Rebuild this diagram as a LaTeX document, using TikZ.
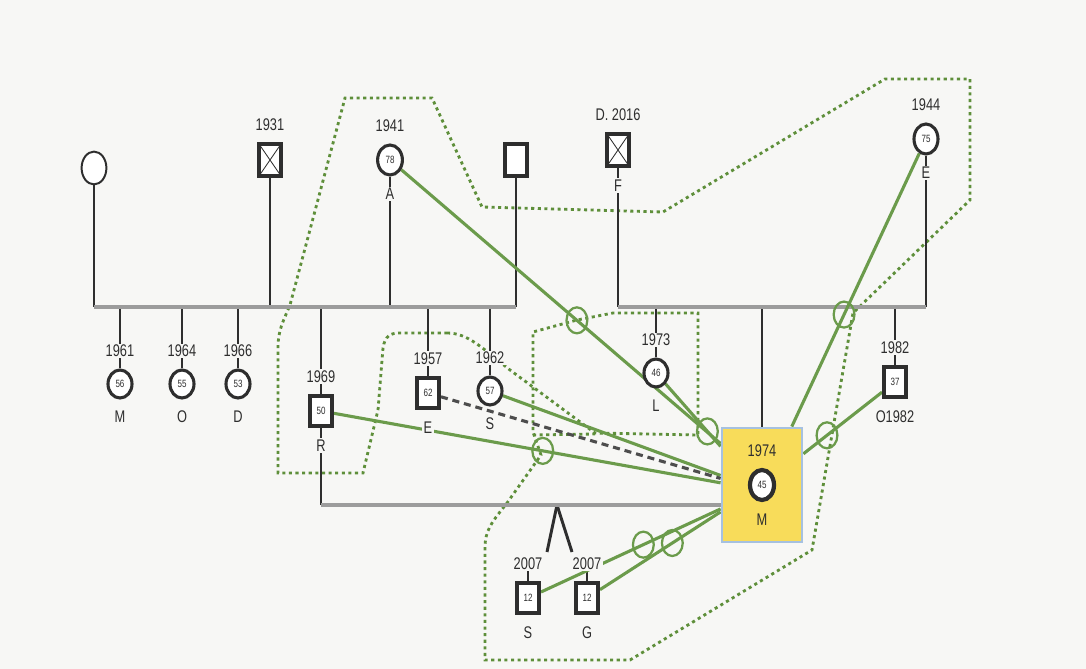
\documentclass[tikz,border=0pt]{standalone}
\usepackage{fontspec}
\newfontfamily\narrowsans[FakeStretch=0.76]{Liberation Sans}
\usepackage{xcolor}
\definecolor{paper}{HTML}{F7F7F5}
\definecolor{ink}{HTML}{2E2E2E}
\definecolor{bond}{HTML}{9C9C9C}
\definecolor{tie}{HTML}{6B9B4B}
\definecolor{zone}{HTML}{5E8F3A}
\definecolor{focus}{HTML}{F8DC5A}
\definecolor{frame}{HTML}{A6C1E0}
\usepackage{tikz}
\usetikzlibrary{shapes.geometric, positioning, calc}
\pgfdeclarelayer{back}
\pgfdeclarelayer{lines}
\pgfsetlayers{back,lines,main}

\tikzset{
  male/.style={rectangle, draw=ink, line width=2.8pt, fill=white, inner sep=0pt, text=ink,
        minimum width=0.55cm, minimum height=0.75cm,
        font=\narrowsans\fontsize{7.5}{8}\selectfont},
  female/.style={male, ellipse, line width=2.2pt, minimum width=0.6cm, minimum height=0.7cm},
  dead/.style={male, minimum height=0.8cm,
        path picture={\draw[ink, line width=0.6pt]
          (path picture bounding box.north west) -- (path picture bounding box.south east)
          (path picture bounding box.north east) -- (path picture bounding box.south west);}},
  tag/.style={font=\narrowsans\fontsize{12}{14}\selectfont, text=ink, fill=paper, inner sep=1pt},
  kidline/.style={draw=ink, line width=2.1pt},
  bondline/.style={draw=bond, line width=2.6pt},
  tieline/.style={draw=tie, line width=2.2pt},
  clashmark/.style={ellipse, draw=tie, line width=1.6pt, fill=none,
        minimum width=0.52cm, minimum height=0.65cm, inner sep=0pt},
  cutline/.style={draw=ink!85, line width=2.2pt, dash pattern=on 5pt off 3.5pt},
  zoneline/.style={draw=zone, line width=2pt, dash pattern=on 2.2pt off 2.5pt}
}

\begin{document}
\begin{tikzpicture}[x=0.025cm, y=-0.025cm, node distance=7pt]
  \useasboundingbox (0,0) rectangle (1086,669);
  \begin{pgfonlayer}{back}
    \fill[paper] (0,0) rectangle (1086,669);
  \end{pgfonlayer}

  \coordinate (leftbar) at (94,307);
  \coordinate (rightbar) at (618,307);

  % grandparents, left
  \node[female, line width=1.4pt, minimum width=0.62cm, minimum height=0.82cm] (gm1) at (94,168) {};
  \node[dead] (gf1) at (270,160) {};
  \node[tag, above=of gf1] (ygf1) {1931};
  \node[female, minimum width=0.62cm, minimum height=0.75cm] (gmA) at (390,160) {78};
  \node[tag, above=of gmA] (ygmA) {1941};
  \node[tag, below=of gmA] (ngmA) {A};
  \node[male, minimum height=0.8cm] (gf2) at (516,160) {};

  % grandparents, right
  \node[dead] (gfF) at (618,150) {};
  \node[tag, above=of gfF] (ygfF) {D. 2016};
  \node[tag, below=of gfF] (ngfF) {F};
  \node[female, minimum height=0.75cm] (gmE) at (926,139) {75};
  \node[tag, above=of gmE] (ygmE) {1944};
  \node[tag, below=of gmE] (ngmE) {E};

  % children, left
  \node[female] (cM) at (120,384) {56};
  \node[tag, above=of cM] (ycM) {1961};
  \node[tag, below=of cM] (ncM) {M};
  \node[female] (cO) at (182,384) {55};
  \node[tag, above=of cO] (ycO) {1964};
  \node[tag, below=of cO] (ncO) {O};
  \node[female] (cD) at (238,384) {53};
  \node[tag, above=of cD] (ycD) {1966};
  \node[tag, below=of cD] (ncD) {D};
  \node[male] (cR) at (321,411) {50};
  \node[tag, above=of cR] (ycR) {1969};
  \node[tag, below=of cR] (ncR) {R};
  \node[male] (cE) at (428,393) {62};
  \node[tag, above=of cE] (ycE) {1957};
  \node[tag, below=of cE] (ncE) {E};
  \node[female] (cS) at (490,391) {57};
  \node[tag, above=of cS] (ycS) {1962};
  \node[tag, below=of cS] (ncS) {S};

  % children, right
  \node[female] (cL) at (656,373) {46};
  \node[tag, above=of cL] (ycL) {1973};
  \node[tag, below=of cL] (ncL) {L};
  \node[draw=frame, fill=focus, line width=2pt, minimum width=2cm, minimum height=2.85cm] (me) at (762,485) {};
  \node[female, line width=3pt, minimum height=0.75cm] (meC) at (762,485) {45};
  \node[tag, fill=none, above=of meC] (ymeC) {1974};
  \node[tag, fill=none, below=of meC] (nmeC) {M};
  \node[male] (cO82) at (895,382) {37};
  \node[tag, above=of cO82] (ycO82) {1982};
  \node[tag, below=of cO82] (ncO82) {O1982};

  % twins
  \coordinate (tw) at (557,505);
  \coordinate (tw1) at (547,552);
  \coordinate (tw2) at (572,552);
  \node[male] (tS) at (528,598) {12};
  \node[tag, above=of tS] (ytS) {2007};
  \node[tag, below=of tS] (ntS) {S};
  \node[male] (tG) at (587,598) {12};
  \node[tag, above=of tG] (ytG) {2007};
  \node[tag, below=of tG] (ntG) {G};

  \begin{pgfonlayer}{lines}
    % household outline
    \draw[zoneline] (447,333) .. controls (468,333) and (482,348) .. (510,370)
      -- (595,433) -- (698,435) -- (698,313) -- (613,313) -- (577,320) -- (533,332)
      -- (533,432) -- (541,455) -- (507,503) .. controls (492,522) and (485,530) .. (485,548)
      -- (485,660) -- (630,660) -- (812,550) -- (853,313) -- (970,200) -- (970,79)
      -- (885,79) -- (663,212) -- (482,207) -- (432,98) -- (345,98) -- (290,305)
      .. controls (283,322) and (278,330) .. (278,348) -- (278,473) -- (363,473)
      -- (378,410) -- (383,348) .. controls (385,336) and (390,333) .. (400,333) -- cycle;
    \draw[zoneline] (533,435) -- (595,434);

    % descent lines
    \draw[kidline] (gm1) -- (gm1 |- leftbar);
    \draw[kidline] (gf1) -- (gf1 |- leftbar);
    \draw[kidline] (gmA) -- (gmA |- leftbar);
    \draw[kidline] (gf2) -- (gf2 |- leftbar);
    \draw[kidline] (gfF) -- (gfF |- rightbar);
    \draw[kidline] (gmE) -- (gmE |- rightbar);
    \foreach \kid in {cM, cO, cD, cE, cS}
      \draw[kidline] (\kid |- leftbar) -- (\kid);
    \draw[kidline] (cR |- leftbar) -- (cR |- tw);
    \draw[kidline] (cL |- rightbar) -- (cL);
    \draw[kidline] (me.north |- rightbar) -- (me.north);
    \draw[kidline] (cO82 |- rightbar) -- (cO82);
    \draw[kidline] (tw) -- (tw1);
    \draw[kidline] (tw) -- (tw2);
    \draw[kidline] (ytS) -- (tS);
    \draw[kidline] (ytG) -- (tG);

    % couples
    \draw[bondline] (gm1 |- leftbar) -- (gf2 |- leftbar);
    \draw[bondline] (gfF |- rightbar) -- (gmE |- rightbar);
    \draw[bondline] (cR |- tw) -- (me.west |- tw);

    % ties to M
    \draw[tieline] (gmA) -- node[clashmark, pos=.55] (kA) {} (me.135);
    \draw[tieline] (cL) -- node[clashmark, pos=.76] (kL) {} (me.137);
    \draw[tieline] (cS) -- (me.167);
    \draw[cutline] (cE) -- (me.171);
    \draw[tieline] (cR) -- node[clashmark, pos=.54] (kR) {} (me.177);
    \draw[tieline] (gmE) -- node[clashmark, pos=.59] (kE) {} (me.63);
    \draw[tieline] (cO82) -- node[clashmark, pos=.70] (kO) {} (me.37);
    \draw[tieline] (tS) -- node[clashmark, pos=.57] (kS) {} (me.210);
    \draw[tieline] (tG) -- node[clashmark, pos=.60] (kG) {} (me.213);
  \end{pgfonlayer}
\end{tikzpicture}
\end{document}
